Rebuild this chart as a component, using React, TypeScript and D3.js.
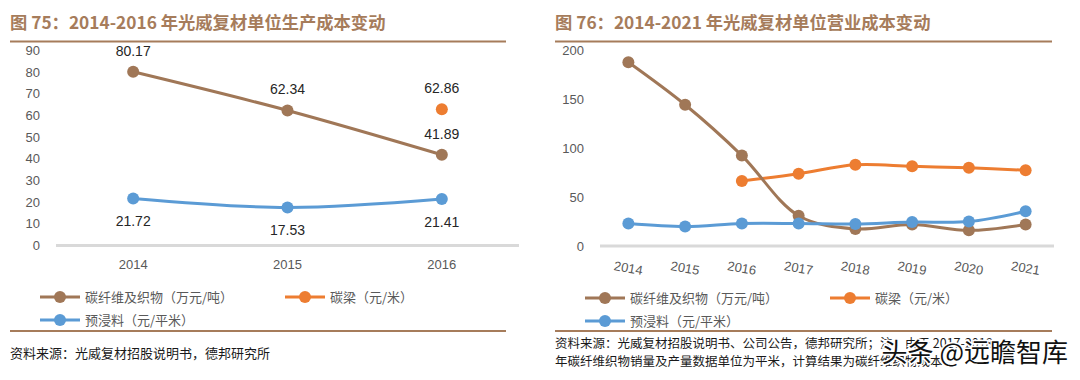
import React from "react";
import * as d3 from "d3";

const leftYears = ["2014", "2015", "2016"];
const leftFiber = [80.17, 62.34, 41.89];
const leftBeam = [null, null, 62.86];
const leftPrepreg = [21.72, 17.53, 21.41];
const leftTicks = [0, 10, 20, 30, 40, 50, 60, 70, 80, 90];

const rightYears = ["2014", "2015", "2016", "2017", "2018", "2019", "2020", "2021"];
const rightFiber = [188, 144.5, 92.5, 31, 17.5, 22, 16, 22];
const rightBeam = [null, null, 66.5, 74, 83, 81.5, 80, 77.5];
const rightPrepreg = [23, 20, 23, 23, 22.5, 24.5, 25, 35.5];
const rightTicks = [0, 50, 100, 150, 200];

const legendNames = ["碳纤维及织物（万元/吨）", "碳梁（元/米）", "预浸料（元/平米）"];

const BROWN = "#a07757";
const ORANGE = "#ed7d31";
const BLUE = "#5b9bd5";
const TITLE = "#a67c5b";
const NUM = "'Liberation Sans', Arial, sans-serif";
const CJK = "'Noto Sans CJK SC', sans-serif";

type Pt = { x: number; y: number };

function series(vals: (number | null)[], cats: string[], x: d3.ScaleBand<string>, y: d3.ScaleLinear<number, number>): Pt[] {
  const out: Pt[] = [];
  vals.forEach((v, i) => {
    if (v !== null) out.push({ x: (x(cats[i]) as number) + x.bandwidth() / 2, y: y(v) });
  });
  return out;
}

function Line({ pts, color, r = 6 }: { pts: Pt[]; color: string; r?: number }) {
  const gen = d3.line<Pt>().x((d) => d.x).y((d) => d.y).curve(d3.curveCatmullRom.alpha(0.5));
  return (
    <g>
      {pts.length > 1 && <path d={gen(pts) || ""} fill="none" stroke={color} strokeWidth={3} />}
      {pts.map((p, i) => (
        <circle key={i} cx={p.x} cy={p.y} r={r} fill={color} />
      ))}
    </g>
  );
}

function Legend({ x0, x1, y0, y1 }: { x0: number; x1: number; y0: number; y1: number }) {
  const items = [
    { c: BROWN, x: x0, y: y0, t: legendNames[0] },
    { c: ORANGE, x: x1, y: y0, t: legendNames[1] },
    { c: BLUE, x: x0, y: y1, t: legendNames[2] },
  ];
  return (
    <g>
      {items.map((it, i) => (
        <g key={i}>
          <line x1={it.x} x2={it.x + 40} y1={it.y} y2={it.y} stroke={it.c} strokeWidth={3} />
          <circle cx={it.x + 20} cy={it.y} r={6} fill={it.c} />
          <text x={it.x + 45} y={it.y} dy="0.35em" fontSize={13} fill="#595959" fontFamily={CJK}>
            {it.t}
          </text>
        </g>
      ))}
    </g>
  );
}

export default function App() {
  const lx = d3.scaleBand<string>().domain(leftYears).range([56, 519]);
  const ly = d3.scaleLinear().domain([0, 90]).range([245.5, 50.5]);
  const lFiber = series(leftFiber, leftYears, lx, ly);
  const lBeam = series(leftBeam, leftYears, lx, ly);
  const lPre = series(leftPrepreg, leftYears, lx, ly);

  const rx = d3.scaleBand<string>().domain(rightYears).range([600, 1054]);
  const ry = d3.scaleLinear().domain([0, 200]).range([246, 50.5]);
  const rFiber = series(rightFiber, rightYears, rx, ry);
  const rBeam = series(rightBeam, rightYears, rx, ry);
  const rPre = series(rightPrepreg, rightYears, rx, ry);

  const lbl = (t: string, x: number, y: number, k: string) => (
    <text key={k} x={x} y={y} textAnchor="middle" dy="0.35em" fontSize={14} fill="#262626" fontFamily={NUM}>
      {t}
    </text>
  );

  return (
    <svg width={1080} height={380} style={{ position: "absolute", left: 0, top: 0, background: "#fff" }}>
      {/* Left panel */}
      <text x={10} y={23} dy="0.35em" fontSize={17.3} fontWeight="bold" fill={TITLE} fontFamily={CJK}>
        图 75：2014-2016 年光威复材单位生产成本变动
      </text>
      <line x1={10} x2={506} y1={41.5} y2={41.5} stroke={TITLE} strokeWidth={2} />
      {leftTicks.map((t) => (
        <text key={t} x={40} y={ly(t)} dy="0.35em" textAnchor="end" fontSize={13} fill="#595959" fontFamily={NUM}>
          {t}
        </text>
      ))}
      <line x1={56} x2={519} y1={ly(0)} y2={ly(0)} stroke="#d9d9d9" strokeWidth={3} />
      {leftYears.map((c) => (
        <text key={c} x={(lx(c) as number) + lx.bandwidth() / 2} y={264} dy="0.35em" textAnchor="middle" fontSize={13} fill="#595959" fontFamily={NUM}>
          {c}
        </text>
      ))}
      <Line pts={lPre} color={BLUE} />
      <Line pts={lFiber} color={BROWN} />
      <Line pts={lBeam} color={ORANGE} />
      {lFiber.map((p, i) => lbl(leftFiber[i].toFixed(2), p.x, p.y - 21, "f" + i))}
      {lBeam.map((p, i) => lbl((leftBeam[2] as number).toFixed(2), p.x, p.y - 21, "b" + i))}
      {lPre.map((p, i) => lbl(leftPrepreg[i].toFixed(2), p.x, p.y + 23, "p" + i))}
      <Legend x0={40} x1={285} y0={297} y1={320} />
      <line x1={10} x2={506} y1={331} y2={331} stroke={TITLE} strokeWidth={2} />
      <text x={10} y={353} dy="0.35em" fontSize={13} fill="#1a1a1a" fontFamily={CJK}>
        资料来源：光威复材招股说明书，德邦研究所
      </text>

      {/* Right panel */}
      <text x={555} y={23} dy="0.35em" fontSize={17.3} fontWeight="bold" fill={TITLE} fontFamily={CJK}>
        图 76：2014-2021 年光威复材单位营业成本变动
      </text>
      <line x1={555} x2={1052} y1={41.5} y2={41.5} stroke={TITLE} strokeWidth={2} />
      {rightTicks.map((t) => (
        <text key={t} x={584} y={ry(t)} dy="0.35em" textAnchor="end" fontSize={13} fill="#595959" fontFamily={NUM}>
          {t}
        </text>
      ))}
      <line x1={600} x2={1054} y1={ry(0)} y2={ry(0)} stroke="#d9d9d9" strokeWidth={3} />
      {rightYears.map((c) => {
        const cx = (rx(c) as number) + rx.bandwidth() / 2;
        return (
          <text key={c} transform={`translate(${cx},${268}) rotate(10)`} dy="0.35em" textAnchor="middle" fontSize={13} fill="#595959" fontFamily={NUM}>
            {c}
          </text>
        );
      })}
      <Line pts={rBeam} color={ORANGE} />
      <Line pts={rFiber} color={BROWN} />
      <Line pts={rPre} color={BLUE} />
      <Legend x0={585} x1={830} y0={298} y1={321} />
      <line x1={555} x2={1052} y1={331} y2={331} stroke={TITLE} strokeWidth={2} />
      <text x={555} y={344} dy="0.35em" fontSize={12.5} fill="#1a1a1a" fontFamily={CJK}>
        资料来源：光威复材招股说明书、公司公告，德邦研究所；注：由于 2017-2018
      </text>
      <text x={555} y={362} dy="0.35em" fontSize={12.5} fill="#1a1a1a" fontFamily={CJK}>
        年碳纤维织物销量及产量数据单位为平米，计算结果为碳纤维织物成本
      </text>
      <text x={1068} y={353} dy="0.35em" textAnchor="end" fontSize={26} fill="#111" stroke="#fff" strokeWidth={3} paintOrder="stroke" fontFamily={CJK}>
        头条 @远瞻智库
      </text>
    </svg>
  );
}
